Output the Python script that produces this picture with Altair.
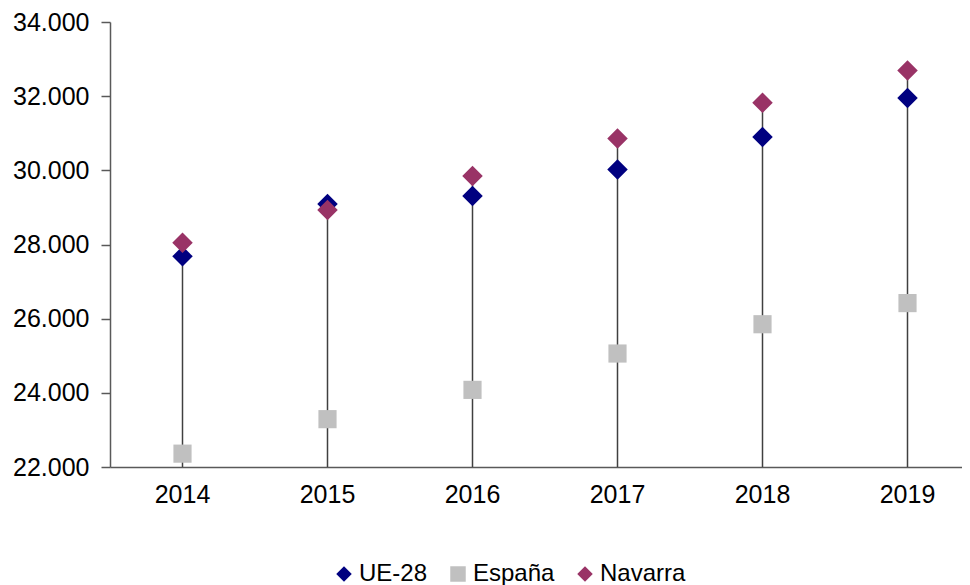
import altair as alt
import pandas as pd

years = ["2014", "2015", "2016", "2017", "2018", "2019"]
series_names = ["UE-28", "España", "Navarra"]
ue28 = [27680, 29090, 29310, 30020, 30900, 31950]
espana = [22360, 23290, 24080, 25060, 25850, 26420]
navarra = [28050, 28930, 29850, 30860, 31820, 32690]
colors = ["#000080", "#C0C0C0", "#993366"]
shapes = ["diamond", "square", "diamond"]

rows = []
for name, vals in zip(series_names, [ue28, espana, navarra]):
    for y, v in zip(years, vals):
        rows.append({"year": y, "serie": name, "valor": v})
points_df = pd.DataFrame(rows)
points_df["orden"] = points_df["serie"].map({n: i for i, n in enumerate(series_names)})

stems_df = pd.DataFrame({
    "year": years,
    "base": [22000] * len(years),
    "top": [max(a, b) for a, b in zip(ue28, navarra)],
})

FONT = "Liberation Sans"
x_scale = alt.Scale(type="band", domain=years, paddingInner=0, paddingOuter=0,
                    range=[0, 870])
y_scale = alt.Scale(domain=[22000, 34000], nice=False, zero=False)

x_axis = alt.Axis(labelAngle=0, ticks=False, labelPadding=15,
                  labelFontSize=25, labelColor="#000000", labelFont=FONT,
                  domainColor="#595959", domainWidth=1.5, grid=False)
y_axis = alt.Axis(values=[22000, 24000, 26000, 28000, 30000, 32000, 34000],
                  labelExpr="replace(format(datum.value, ','), ',', '.')",
                  labelFontSize=25, labelColor="#000000", labelFont=FONT,
                  tickSize=9, tickColor="#595959", tickWidth=1.5,
                  domainColor="#595959", domainWidth=1.5,
                  labelPadding=12, grid=False)

stems = alt.Chart(stems_df).mark_rule(color="#404040", strokeWidth=1.5).encode(
    x=alt.X("year:N", sort=years, title=None, scale=x_scale, axis=x_axis),
    y=alt.Y("base:Q", scale=y_scale, title=None, axis=y_axis),
    y2="top:Q",
)

pts = alt.Chart(points_df).mark_point(filled=True, opacity=1, strokeWidth=0).encode(
    x=alt.X("year:N", sort=years, title=None, scale=x_scale, axis=x_axis),
    y=alt.Y("valor:Q", scale=y_scale, title=None, axis=y_axis),
    color=alt.Color("serie:N", sort=series_names,
                    scale=alt.Scale(domain=series_names, range=colors),
                    legend=alt.Legend(title=None, orient="none", direction="horizontal",
                                      legendX=222, legendY=540,
                                      labelFontSize=24, labelFont=FONT, labelColor="#000000",
                                      symbolSize=240, labelOffset=3, columnPadding=18,
                                      symbolStrokeWidth=0)),
    shape=alt.Shape("serie:N", sort=series_names,
                    scale=alt.Scale(domain=series_names, range=shapes)),
    size=alt.condition(alt.datum.serie == "España", alt.value(330), alt.value(420)),
    order=alt.Order("orden:Q"),
)

chart = alt.layer(stems, pts).properties(
    width=852, height=445,
    background="#ffffff",
    autosize=alt.AutoSizeParams(type="none"),
    padding={"left": 102, "top": 14, "right": 0, "bottom": 118},
).configure_view(stroke=None)

chart.save("out.html", embed_options={"renderer": "svg", "actions": False})
